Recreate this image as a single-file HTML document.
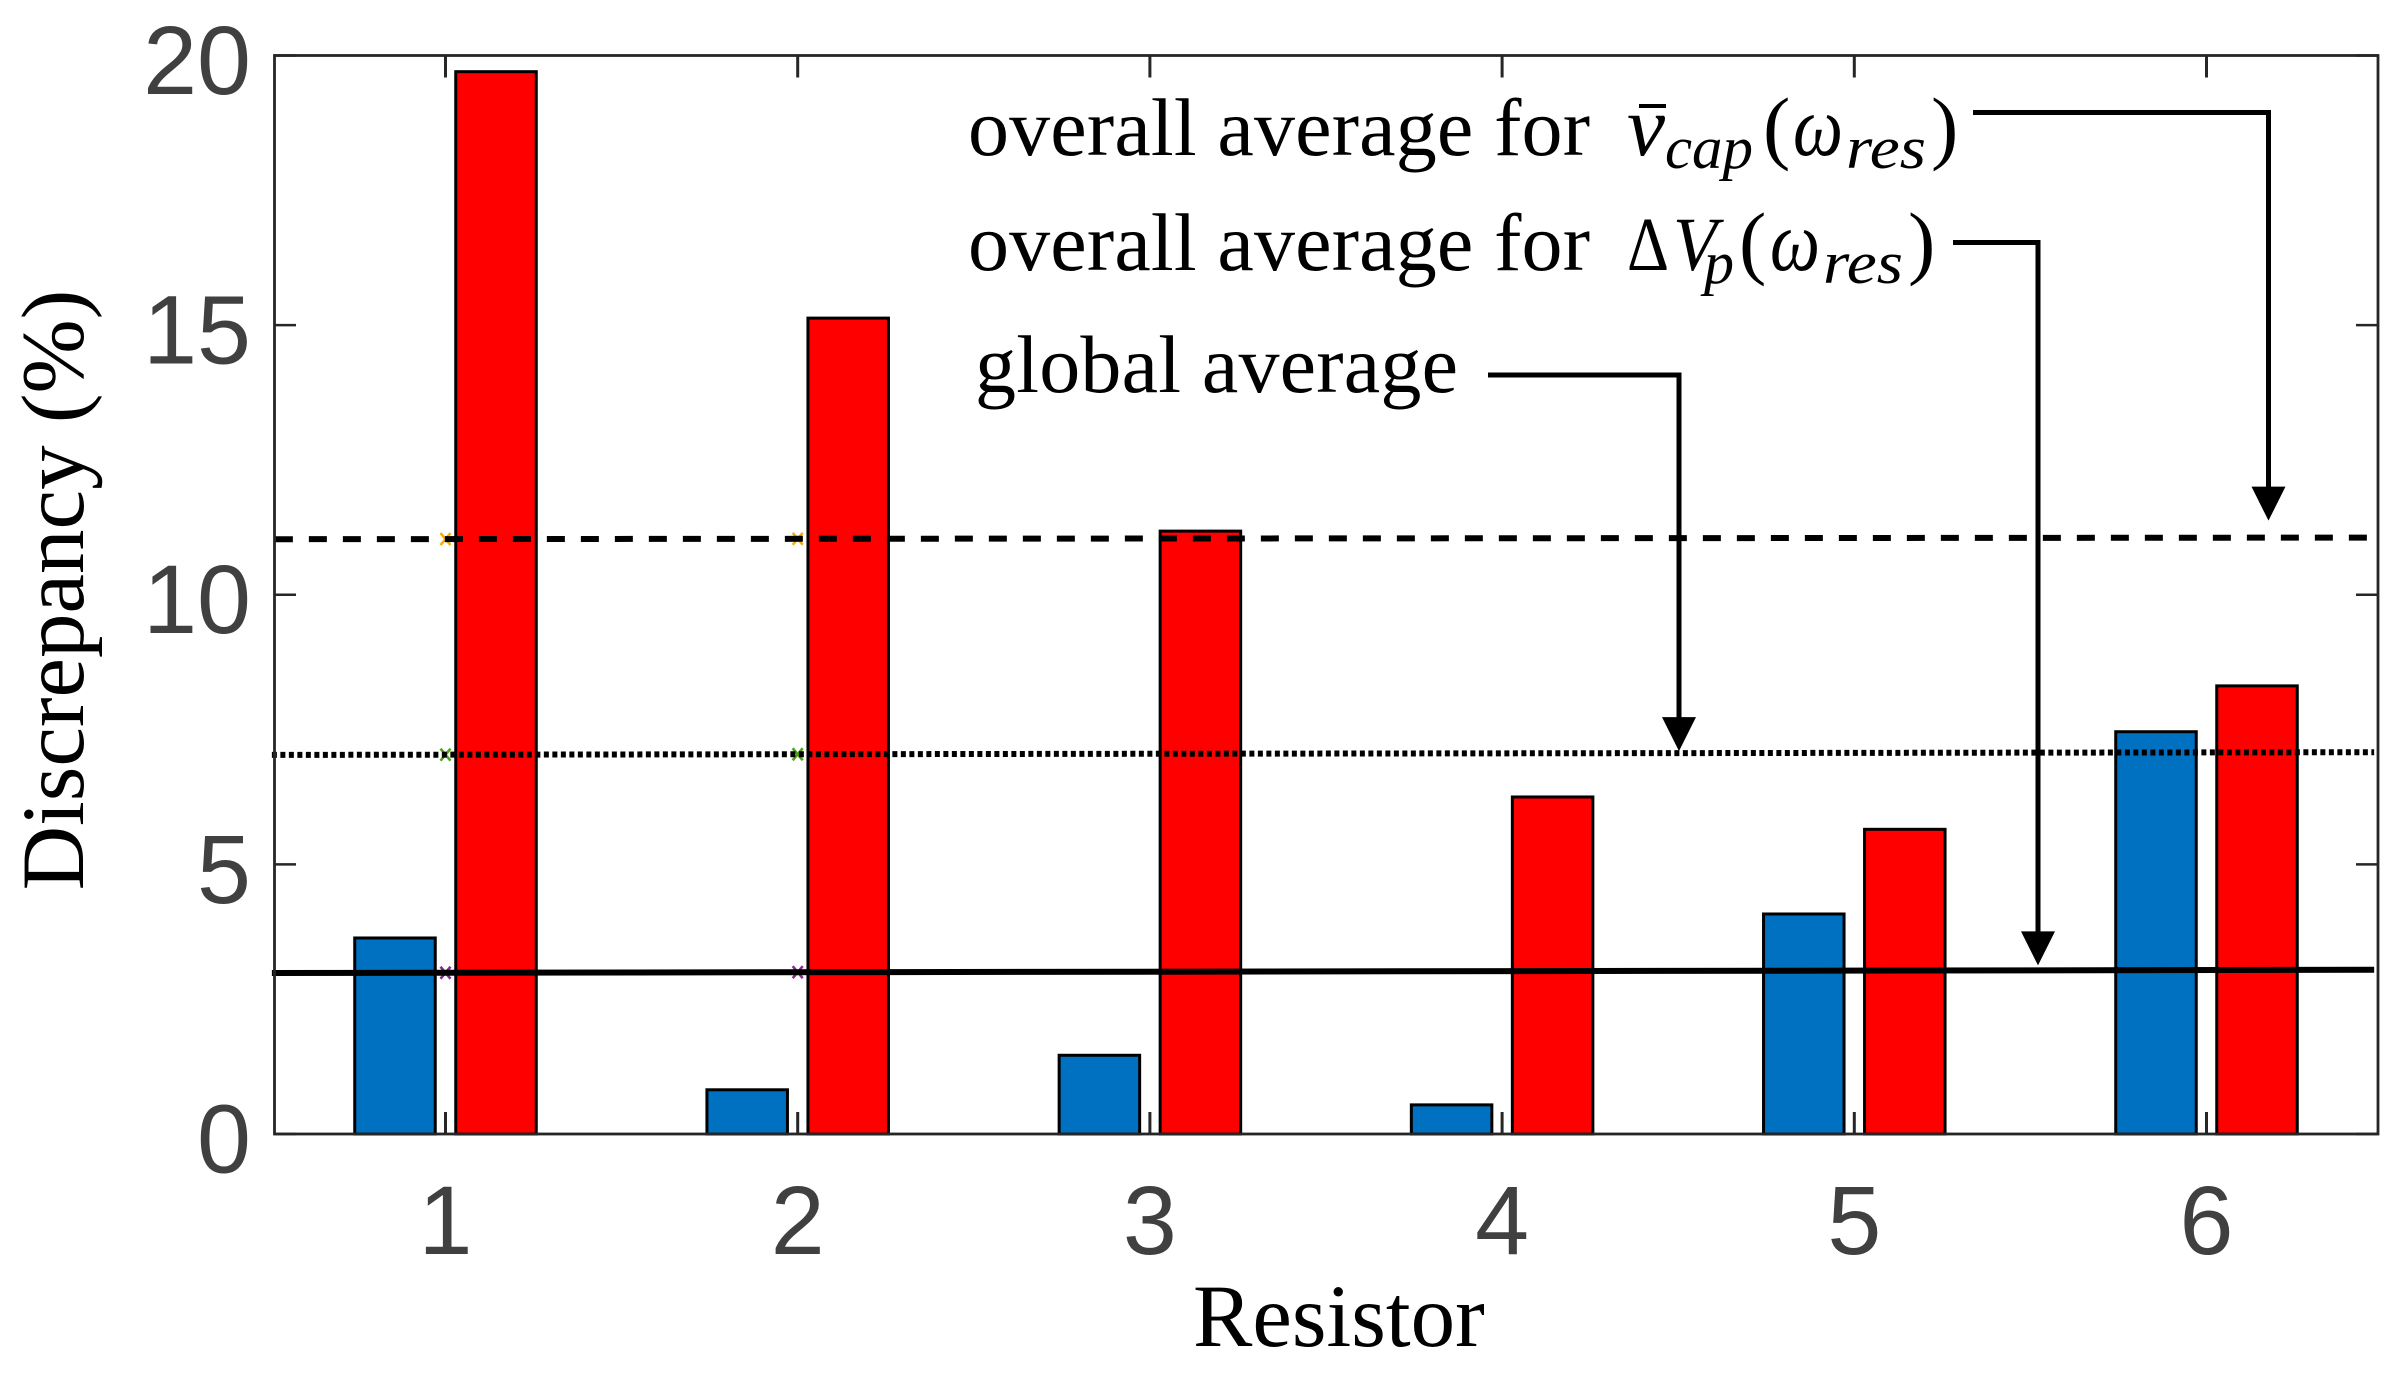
<!DOCTYPE html>
<html>
<head>
<meta charset="utf-8">
<title>Discrepancy per resistor</title>
<style>
html,body{margin:0;padding:0;background:#fff;}
svg{display:block;}
.serif{font-family:"Liberation Serif",serif;fill:#000;}
.tick-text{font-family:"Liberation Sans",sans-serif;font-size:97px;fill:#404040;}
.note{font-size:82px;}
.math{font-size:86px;font-style:italic;}
.sub{font-size:60px;font-style:italic;}
.up{font-size:82px;}
</style>
</head>
<body>
<svg id="chart" xmlns="http://www.w3.org/2000/svg" width="2405" height="1373" viewBox="0 0 2405 1373">
  <rect x="0" y="0" width="2405" height="1373" fill="#fff"/>
  <g id="ticks"></g>
  <g id="bars"></g>
  <g id="markers"></g>
  <g id="lines"></g>
  <rect x="274.5" y="55.5" width="2103.5" height="1078.5" fill="none" stroke="#262626" stroke-width="2.8"/>
  <g id="tick-labels"></g>
  <text class="serif" font-size="89" text-anchor="middle" transform="translate(83,590) rotate(-90)">Discrepancy (%)</text>
  <text class="serif" font-size="89" x="1193" y="1346">Resistor</text>

  <g>
    <text class="serif note" x="968" y="155" textLength="622" lengthAdjust="spacing">overall average for</text>
    <text class="serif math" x="1627" y="155" textLength="38" lengthAdjust="spacingAndGlyphs">v</text>
    <rect x="1639" y="104" width="27" height="4" fill="#000"/>
    <text class="serif sub" x="1665" y="168" textLength="88" lengthAdjust="spacingAndGlyphs">cap</text>
    <text class="serif up" x="1763" y="154">(</text>
    <text class="serif math" x="1793" y="155" textLength="50" lengthAdjust="spacingAndGlyphs">ω</text>
    <text class="serif sub" x="1846" y="168" textLength="80" lengthAdjust="spacingAndGlyphs">res</text>
    <text class="serif up" x="1931" y="154">)</text>
  </g>
  <g>
    <text class="serif note" x="968" y="270" textLength="622" lengthAdjust="spacing">overall average for</text>
    <text class="serif" font-size="76" x="1627" y="270" textLength="42" lengthAdjust="spacingAndGlyphs">Δ</text>
    <text class="serif math" style="font-size:76px" x="1673" y="270" textLength="44" lengthAdjust="spacingAndGlyphs">V</text>
    <text class="serif sub" x="1704" y="283">p</text>
    <text class="serif up" x="1739" y="269">(</text>
    <text class="serif math" x="1770" y="270" textLength="50" lengthAdjust="spacingAndGlyphs">ω</text>
    <text class="serif sub" x="1823" y="283" textLength="80" lengthAdjust="spacingAndGlyphs">res</text>
    <text class="serif up" x="1908" y="269">)</text>
  </g>
  <text class="serif note" x="975" y="392" textLength="483" lengthAdjust="spacing">global average</text>
  <g id="arrows"></g>
</svg>
<script>
const categories = [1, 2, 3, 4, 5, 6];
const blueValues = [3.635, 0.82, 1.46, 0.54, 4.08, 7.46];
const redValues = [19.7, 15.13, 11.18, 6.25, 5.65, 8.31];
const yTickLabels = [0, 5, 10, 15, 20];
const dashedAverage = [11.03, 11.06];
const dottedAverage = [7.03, 7.08];
const solidAverage = [2.985, 3.045];
const lineExtent = [0.507, 6.476];

const NS = 'http://www.w3.org/2000/svg';
function xAxis(v) { return 445.5 + (v - 1) * 352.2; }
function yAxis(v) { return 1134 - v * 53.925; }
function make(tag, attrs, parent) {
  const el = document.createElementNS(NS, tag);
  for (const k in attrs) el.setAttribute(k, attrs[k]);
  document.getElementById(parent).appendChild(el);
  return el;
}
function lineY(series, xv) {
  const t = (xv - lineExtent[0]) / (lineExtent[1] - lineExtent[0]);
  return yAxis(series[0] + (series[1] - series[0]) * t);
}

/* ticks */
categories.forEach(function (c) {
  const bottom = make('line', {x1: xAxis(c), x2: xAxis(c), y1: yAxis(0), y2: yAxis(0) - 22, stroke: '#262626', 'stroke-width': 3}, 'ticks');
  
  
  const top = make('line', {x1: xAxis(c), x2: xAxis(c), y1: yAxis(20), y2: yAxis(20) + 22, stroke: '#262626', 'stroke-width': 3}, 'ticks');
  
  
  const label = make('text', {x: xAxis(c), y: 1254, 'text-anchor': 'middle', class: 'tick-text'}, 'tick-labels');
  label.textContent = c;
  
  
});
yTickLabels.forEach(function (v) {
  const left = make('line', {x1: 274.5, x2: 296, y1: yAxis(v), y2: yAxis(v), stroke: '#262626', 'stroke-width': 2.6}, 'ticks');
  
  
  const right = make('line', {x1: 2378, x2: 2356, y1: yAxis(v), y2: yAxis(v), stroke: '#262626', 'stroke-width': 2.6}, 'ticks');
  
  
  const label = make('text', {x: 251, y: yAxis(v) + 38.4, 'text-anchor': 'end', class: 'tick-text'}, 'tick-labels');
  label.textContent = v;
  
  
});

/* bars */
const barWidth = 0.2286;
const barOffset = 0.1434;
categories.forEach(function (c, i) {
  const blueX = xAxis(c - barOffset - barWidth / 2);
  const blue = make('rect', {x: blueX, y: yAxis(blueValues[i]), width: barWidth * 352.2, height: yAxis(0) - yAxis(blueValues[i]), fill: '#0070C0', stroke: '#000', 'stroke-width': 3}, 'bars');
  
  
  const redX = xAxis(c + barOffset - barWidth / 2);
  const red = make('rect', {x: redX, y: yAxis(redValues[i]), width: barWidth * 352.2, height: yAxis(0) - yAxis(redValues[i]), fill: '#FF0000', stroke: '#000', 'stroke-width': 3}, 'bars');
  
  
});

/* small cross markers at resistor 1 and 2 */
function crosses(series, colour) {
  categories.slice(0, 2).forEach(function (c) {
    const px = xAxis(c), py = lineY(series, c);
    const d = 'M' + (px - 5) + ' ' + (py - 6) + 'L' + (px + 5) + ' ' + (py + 6) + 'M' + (px + 5) + ' ' + (py - 6) + 'L' + (px - 5) + ' ' + (py + 6);
    const m = make('path', {d: d, fill: 'none', stroke: colour, 'stroke-width': 2.6}, 'markers');
    
    
  });
}
crosses(dashedAverage, '#F8AE00');
crosses(dottedAverage, '#4EA60F');
crosses(solidAverage, '#8B2A92');

/* average lines */
function avgLine(series, dash, offset, name) {
  const attrs = {x1: xAxis(lineExtent[0]), x2: xAxis(lineExtent[1]), y1: yAxis(series[0]), y2: yAxis(series[1]), stroke: '#000', 'stroke-width': 6};
  if (dash) { attrs['stroke-dasharray'] = dash; attrs['stroke-dashoffset'] = offset; }
  const l = make('line', attrs, 'lines');
  
  
}
avgLine(dashedAverage, '18 16', -3, 'capacitor-average-line');
avgLine(dottedAverage, '5 3.5', 0, 'global-average-line');
avgLine(solidAverage, null, 0, 'peak-average-line');

/* annotation arrows: elbow leader ending just above the matching average line */
function arrow(x0, yTop, xTurn, series, gap, name) {
  const px = (xTurn - 445.5) / 352.2 + 1;
  const tip = lineY(series, px) - gap;
  const leader = make('path', {d: 'M' + x0 + ' ' + yTop + 'H' + xTurn + 'V' + (tip - 30), fill: 'none', stroke: '#000', 'stroke-width': 5}, 'arrows');
  
  
  const head = make('path', {d: 'M' + (xTurn - 17) + ' ' + (tip - 34) + 'H' + (xTurn + 17) + 'L' + xTurn + ' ' + tip + 'Z', fill: '#000'}, 'arrows');
  
  
}
arrow(1973, 112.5, 2268.5, dashedAverage, 17, 'capacitor-arrow');
arrow(1953, 242.5, 2038, solidAverage, 5, 'peak-arrow');
arrow(1488, 375, 1679, dottedAverage, 2, 'global-arrow');
</script>
</body>
</html>
